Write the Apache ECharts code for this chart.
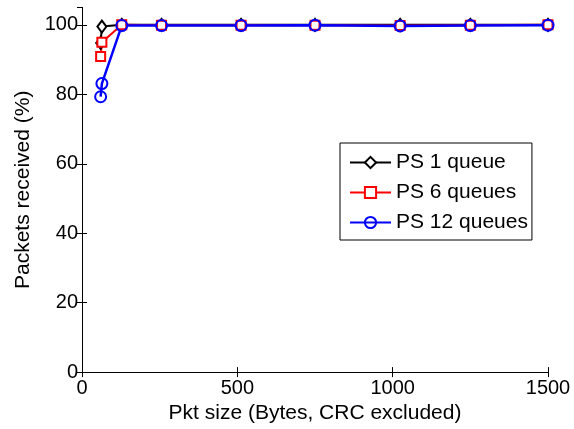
<!DOCTYPE html>
<html>
<head>
<meta charset="utf-8">
<script src="https://cdn.jsdelivr.net/npm/echarts@6/dist/echarts.min.js"></script>
<style>html,body{margin:0;padding:0;background:#fff}#c{width:574px;height:429px}</style>
</head>
<body>
<div id="c"></div>
<script>
const pktSizes = [60, 64, 128, 256, 512, 750, 1024, 1250, 1500];
const ps1 = [94.8, 99.5, 100, 100, 100, 100, 100, 100, 100];
const ps6 = [90.9, 95.0, 100, 99.9, 99.9, 99.9, 99.8, 99.9, 100];
const ps12 = [79.3, 83.1, 99.8, 99.8, 99.8, 99.9, 99.7, 99.8, 99.9];
const seriesNames = ['PS 1 queue', 'PS 6 queues', 'PS 12 queues'];
const xTicks = [0, 500, 1000, 1500];
const yTicks = [0, 20, 40, 60, 80, 100];

const font = 'Liberation Sans, Arial, Helvetica, sans-serif';
const chart = echarts.init(document.getElementById('c'));
function pairs(vals){ return pktSizes.map((x,i)=>[x, vals[i]]); }
const axisCommon = {
  axisLine: {show: true, lineStyle: {color: '#000', width: 1}},
  axisTick: {show: true, inside: true, length: 5, lineStyle: {color: '#000'}},
  splitLine: {show: false}
};
chart.setOption({
  animation: false,
  backgroundColor: '#fff',
  grid: {left: 82, right: 26, top: 7.5, bottom: 54.5},
  xAxis: [
    Object.assign({
      type: 'value', min: xTicks[0], max: xTicks[xTicks.length-1], interval: 500,
      position: 'bottom',
      name: 'Pkt size (Bytes, CRC excluded)', nameLocation: 'middle', nameGap: 28,
      nameTextStyle: {fontFamily: font, fontSize: 21, color: '#000'},
      axisLabel: {fontFamily: font, fontSize: 20, color: '#000', margin: 6,
        formatter: v => xTicks.includes(v) ? String(v) : ''}
    }, axisCommon),
    Object.assign({
      type: 'value', min: xTicks[0], max: xTicks[xTicks.length-1], interval: 500,
      position: 'top', axisLabel: {show: false}
    }, axisCommon)
  ],
  yAxis: [
    Object.assign({
      type: 'value', min: 0, max: 105, interval: 20, position: 'left',
      name: 'Packets received (%)', nameLocation: 'middle', nameGap: 42.5,
      nameTextStyle: {fontFamily: font, fontSize: 21, color: '#000'},
      axisLabel: {fontFamily: font, fontSize: 20, color: '#000', margin: 4, showMaxLabel: false,
        formatter: v => yTicks.includes(v) ? String(v) : ''}
    }, axisCommon),
    Object.assign({
      type: 'value', min: 0, max: 105, interval: 20, position: 'right',
      axisLabel: {show: false}
    }, axisCommon)
  ],
  legend: {
    orient: 'vertical', left: 340, top: 143,
    data: seriesNames,
    backgroundColor: '#fff', borderColor: '#000', borderWidth: 1,
    padding: [9, 4, 7, 9], itemGap: 9, itemWidth: 41, itemHeight: 14,
    textStyle: {fontFamily: font, fontSize: 21, color: '#000'}
  },
  series: [
    {name: seriesNames[0], type: 'line', data: pairs(ps1), color: '#000',
     symbol: 'diamond', symbolSize: [9, 12], showAllSymbol: true,
     lineStyle: {width: 2, color: '#000'},
     itemStyle: {color: '#fff', borderColor: '#000', borderWidth: 2}},
    {name: seriesNames[1], type: 'line', data: pairs(ps6), color: '#f00',
     symbol: 'rect', symbolSize: 9, showAllSymbol: true,
     lineStyle: {width: 2, color: '#f00'},
     itemStyle: {color: '#fff', borderColor: '#f00', borderWidth: 2}},
    {name: seriesNames[2], type: 'line', data: pairs(ps12), color: '#00f',
     symbol: 'circle', symbolSize: 11, showAllSymbol: true,
     lineStyle: {width: 2.5, color: '#00f'},
     itemStyle: {color: 'rgba(255,255,255,0)', borderColor: '#00f', borderWidth: 2}}
  ]
});
</script>
</body>
</html>
